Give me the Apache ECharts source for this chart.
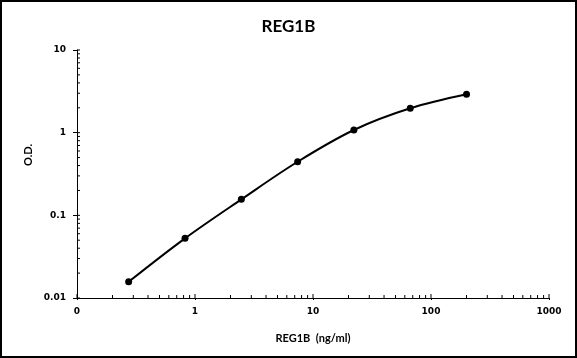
<!DOCTYPE html>
<html>
<head>
<meta charset="utf-8">
<script src="https://cdn.jsdelivr.net/npm/echarts@6/dist/echarts.min.js"></script>
<style>
html,body{margin:0;padding:0;background:#fff;}
#chart{width:577px;height:358px;}
</style>
</head>
<body>
<div id="chart"></div>
<script>
// ---- data ----
const titleText = 'REG1B';
const xAxisName = 'REG1B  (ng/ml)';
const yAxisName = 'O.D.';
const concentrations = [0.274, 0.823, 2.47, 7.41, 22.2, 66.7, 200];
const odValues = [0.0157, 0.0527, 0.156, 0.445, 1.077, 1.97, 2.91];
const xMin = 0.1, xMax = 1000;
const yMin = 0.01, yMax = 10;
const xMajorTicks = [0.1, 1, 10, 100, 1000];
const yMajorTicks = [0.01, 0.1, 1, 10];
const minorMultipliers = [2, 3, 4, 5, 6, 7, 8, 9];

function minorTicks(lo, hi) {
  const out = [];
  for (let d = lo; d < hi * 0.999; d *= 10) {
    minorMultipliers.forEach(m => out.push(d * m));
  }
  return out;
}
const xMinor = minorTicks(xMin, xMax);
const yMinor = minorTicks(yMin, yMax);

const points = concentrations.map((c, i) => [c, odValues[i]]);
const xTickData = xMinor.map(v => [v, yMin, 3]).concat(xMajorTicks.map(v => [v, yMin, 4]));
const yTickData = yMinor.map(v => [xMin, v, 3]).concat(yMajorTicks.map(v => [xMin, v, 3]));

const chart = echarts.init(document.getElementById('chart'), null, {renderer: 'canvas'});
const labelFont = {color: '#000', fontFamily: 'DejaVu Sans', fontWeight: 'bold', fontSize: 9};

chart.setOption({
  animation: false,
  backgroundColor: '#fff',
  title: {
    text: titleText,
    left: 'center',
    top: 13,
    textStyle: {fontFamily: 'Lato', fontWeight: 'bold', fontSize: 17, color: '#000'}
  },
  grid: {left: 77, right: 28, top: 50, bottom: 60, containLabel: false},
  xAxis: {
    type: 'log',
    logBase: 10,
    min: xMin,
    max: xMax,
    name: xAxisName,
    nameLocation: 'middle',
    nameGap: 35,
    nameTextStyle: {fontFamily: 'Lato', fontSize: 11, color: '#000', fontWeight: 'bold'},
    axisLine: {lineStyle: {color: '#000', width: 1}},
    axisTick: {show: true, inside: false, length: 2, lineStyle: {color: '#000'}},
    axisLabel: Object.assign({
      margin: 9,
      formatter: v => (v <= xMin * 1.0001 ? '0' : String(Math.round(v)))
    }, labelFont),
    splitLine: {show: false}
  },
  yAxis: {
    type: 'log',
    logBase: 10,
    min: yMin,
    max: yMax,
    axisLine: {show: true, lineStyle: {color: '#000', width: 1}},
    axisTick: {show: true, inside: false, length: 4, lineStyle: {color: '#000'}},
    axisLabel: Object.assign({
      margin: 11,
      formatter: v => {
        if (v >= 1) return String(Math.round(v));
        return String(Number(v.toPrecision(1)));
      }
    }, labelFont),
    splitLine: {show: false}
  },
  graphic: [
    {
      type: 'rect',
      shape: {x: 1, y: 1, width: 575, height: 356},
      style: {fill: 'none', stroke: '#000', lineWidth: 2},
      silent: true
    },
    {
      type: 'text',
      x: 28,
      y: 155,
      rotation: Math.PI / 2,
      style: {
        text: yAxisName,
        fontFamily: 'Lato',
        fontWeight: 'bold',
        fontSize: 11,
        fill: '#000',
        align: 'center',
        verticalAlign: 'middle'
      },
      silent: true
    }
  ],
  series: [
    {
      type: 'custom',
      silent: true,
      clip: false,
      data: xTickData,
      renderItem: function (params, api) {
        const p = api.coord([api.value(0), api.value(1)]);
        const len = api.value(2);
        return {
          type: 'line',
          shape: {x1: p[0], y1: p[1], x2: p[0], y2: p[1] - len},
          style: {stroke: '#000', lineWidth: 1}
        };
      }
    },
    {
      type: 'custom',
      silent: true,
      clip: false,
      data: yTickData,
      renderItem: function (params, api) {
        const p = api.coord([api.value(0), api.value(1)]);
        const len = api.value(2);
        return {
          type: 'line',
          shape: {x1: p[0], y1: p[1], x2: p[0] + len, y2: p[1]},
          style: {stroke: '#000', lineWidth: 1}
        };
      }
    },
    {
      type: 'line',
      data: points,
      smooth: 0.35,
      symbol: 'circle',
      symbolSize: 7,
      lineStyle: {color: '#000', width: 2},
      itemStyle: {color: '#000'}
    }
  ]
});
</script>
</body>
</html>
